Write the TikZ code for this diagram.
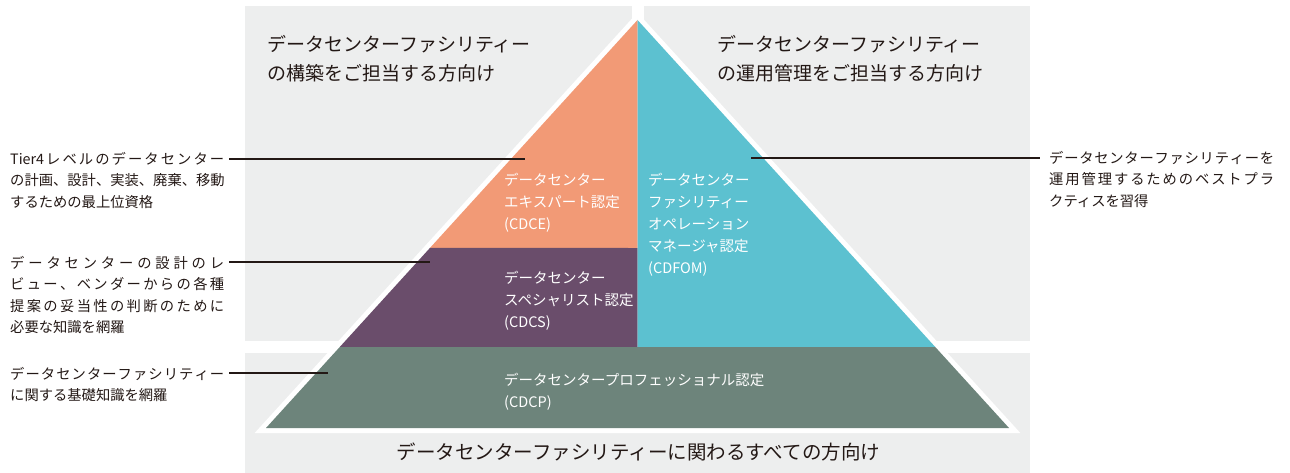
\documentclass[tikz,border=0pt]{standalone}
\usepackage{fontspec}
\setmainfont{Noto Sans CJK JP}
\usetikzlibrary{calc}

\definecolor{panelgray}{HTML}{EDEEEE}
\definecolor{cdceorange}{HTML}{F29A76}
\definecolor{cdcspurple}{HTML}{6A4D6B}
\definecolor{cdfomcyan}{HTML}{5CC1D0}
\definecolor{cdcpgreen}{HTML}{6D847B}
\definecolor{inkdark}{HTML}{231815}

% spread one line of text over a given width
\makeatletter
\def\jl@first#1{#1\jl@next}
\def\jl@next#1{\ifx\relax#1\else\hfil#1\expandafter\jl@next\fi}
\newcommand\jline[2]{\makebox[#1][s]{\jl@first#2\relax}}
\makeatother

\begin{document}
\begin{tikzpicture}[x=1pt,y=-1pt,
    panel/.style={fill=panelgray},
    headtxt/.style={inkdark,inner sep=0pt,align=left,font=\fontsize{19}{29}\selectfont},
    notetxt/.style={inkdark,inner sep=0pt,align=left,font=\fontsize{14.3}{21.4}\selectfont},
    labtxt/.style={white,inner sep=0pt,align=left,font=\fontsize{14.5}{22}\selectfont},
    leader/.style={inkdark,line width=1.2pt}]
    \useasboundingbox (0,0) rectangle (1290,473);
    % background panels
    \fill[panel] (245,6) rectangle (632,341);
    \fill[panel] (644,6) rectangle (1030,341);
    \fill[panel] (245,353) rectangle (1030,473);
    % pyramid
    \coordinate (apex) at (637.5,20);
    \coordinate (bl) at (266,428);
    \coordinate (br) at (1009,428);
    \coordinate (mid) at (637.5,248);
    \coordinate (low) at (637.5,347);
    \draw[white,line width=10pt] (apex)--(bl)--(br)--cycle;
    \fill[cdceorange] (apex)--($(apex)!0.5588!(bl)$)--(mid)--cycle;
    \fill[cdcspurple] ($(apex)!0.5588!(bl)$)--($(apex)!0.8015!(bl)$)--(low)--(mid)--cycle;
    \fill[cdfomcyan] (apex)--(low)--($(apex)!0.8015!(br)$)--cycle;
    \fill[cdcpgreen] ($(apex)!0.8015!(bl)$)--(bl)--(br)--($(apex)!0.8015!(br)$)--cycle;
    % headings (base = last line)
    \node[headtxt,anchor=base west] (build) at (267,81)
        {データセンターファシリティー\\の構築をご担当する方向け};
    \node[headtxt,anchor=base west] (operate) at (717,81)
        {データセンターファシリティー\\の運用管理をご担当する方向け};
    \node[headtxt,anchor=base,font=\fontsize{19.5}{29}\selectfont] (all) at (638.5,459.5)
        {データセンターファシリティーに関わるすべての方向け};
    % certificates
    \node[labtxt,anchor=base west] (cdce) at (504,229.5)
        {データセンター\\エキスパート認定\\(CDCE)};
    \node[labtxt,anchor=base west] (cdfom) at (648,273.5)
        {データセンター\\ファシリティー\\オペレーション\\マネージャ認定\\(CDFOM)};
    \node[labtxt,anchor=base west] (cdcs) at (504,327.5)
        {データセンター\\スペシャリスト認定\\(CDCS)};
    \node[labtxt,anchor=base west] (cdcp) at (504,407.5)
        {データセンタープロフェッショナル認定\\(CDCP)};
    % notes
    \node[notetxt,anchor=base west] (tier) at (10,207.2)
        {\jline{214pt}{{Tier4}レベルのデータセンター}\\\jline{214pt}{の計画、設計、実装、廃棄、移動}\\するための最上位資格};
    \node[notetxt,anchor=base west] (review) at (10,332.6)
        {\jline{214pt}{データセンターの設計のレ}\\\jline{214pt}{ビュー、ベンダーからの各種}\\\jline{214pt}{提案の妥当性の判断のために}\\必要な知識を網羅};
    \node[notetxt,anchor=base west] (basic) at (10,400.8)
        {\jline{214pt}{データセンターファシリティー}\\に関する基礎知識を網羅};
    \node[notetxt,anchor=base west] (best) at (1049,206.2)
        {\jline{225pt}{データセンターファシリティーを}\\\jline{225pt}{運用管理するためのベストプラ}\\クティスを習得};
    % leaders
    \coordinate (tierpt) at (525,159);
    \coordinate (reviewpt) at (430,262);
    \coordinate (basicpt) at (328,373);
    \coordinate (bestpt) at (751,158);
    \draw[leader] ([xshift=5pt]tierpt -| tier.east)--(tierpt);
    \draw[leader] ([xshift=5pt]reviewpt -| review.east)--(reviewpt);
    \draw[leader] ([xshift=5pt]basicpt -| basic.east)--(basicpt);
    \draw[leader] (bestpt)--([xshift=-9pt]bestpt -| best.west);
\end{tikzpicture}
\end{document}
